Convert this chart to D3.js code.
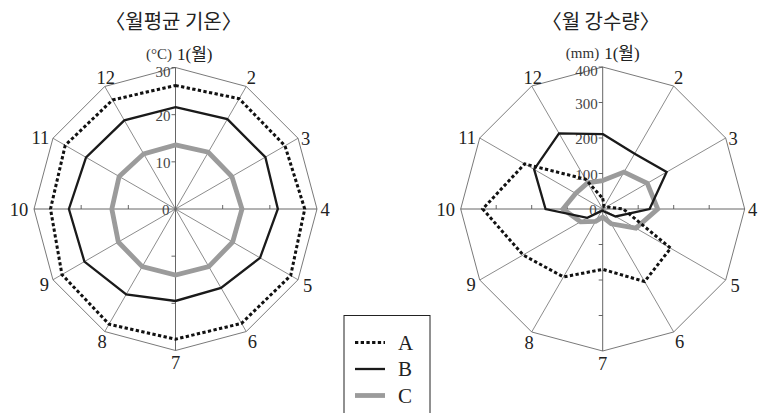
<!DOCTYPE html>
<html>
<head>
<meta charset="utf-8">
<script src="https://cdn.jsdelivr.net/npm/d3@7"></script>
<style>
  body { margin: 0; background: #fff; }
  svg { display: block; }
</style>
</head>
<body>
<svg></svg>
<script>
var width = 771;
var height = 413;

// months around the dial
var months = ["1", "2", "3", "4", "5", "6", "7", "8", "9", "10", "11", "12"];

// monthly mean temperature (°C)
var tempA = [26.2, 27.0, 26.8, 27.4, 28.2, 28.0, 27.6, 28.2, 27.8, 26.5, 27.0, 26.7];
var tempB = [21.6, 22.0, 22.0, 21.7, 20.7, 19.3, 19.5, 20.9, 22.3, 22.6, 21.9, 21.7];
var tempC = [13.6, 13.9, 13.8, 14.1, 14.0, 14.1, 14.0, 14.1, 14.0, 13.5, 13.8, 13.5];

// monthly precipitation (mm)
var rainA = [30, 8, 12, 58, 221, 236, 170, 221, 259, 338, 254, 97];
var rainB = [211, 180, 208, 132, 42, 8, 5, 6, 50, 161, 223, 246];
var rainC = [80, 120, 145, 155, 108, 48, 23, 40, 72, 112, 88, 85];

var tempTicks = [10, 20, 30];
var rainTicks = [100, 200, 300, 400];
var seriesNames = ["A", "B", "C"];

var svg = d3.select("svg")
  .attr("width", width)
  .attr("height", height);

var serif = "'Liberation Serif', 'Times New Roman', 'Noto Sans CJK KR', serif";
var gothic = "'Noto Sans CJK KR', sans-serif";

var styles = {
  A: { stroke: "#111", width: 3, dash: "3.3,2.4" },
  B: { stroke: "#1a1a1a", width: 2.3, dash: null },
  C: { stroke: "#9b9b9b", width: 4.8, dash: null }
};

// label centre nudges relative to the spoke end (month 2..12), month 1 handled apart
var nudgeX = [0, 5, 7.5, 8, 9.5, 6, 0, -2.7, -8.6, -15, -12.6, 1];
var nudgeY = [0, -8.4, 0.3, 1, 6, 10, 12.5, 10.5, 5, 1, -0.5, -8.7];

var angle = d3.scaleLinear().domain([0, 12]).range([0, 2 * Math.PI]);

function drawRadar(cx, cy, R, maxV, ticks, unit, title, series) {
  var g = svg.append("g").attr("transform", "translate(" + cx + "," + cy + ")");
  var r = d3.scaleLinear().domain([0, maxV]).range([0, R]);

  function pt(i, v) {
    var a = angle(i);
    return [Math.sin(a) * r(v), -Math.cos(a) * r(v)];
  }

  // outer dodecagon
  g.append("path")
    .attr("d", d3.lineRadial()
      .angle(function(d, i) { return angle(i); })
      .radius(R)
      .curve(d3.curveLinearClosed)(months))
    .attr("fill", "none")
    .attr("stroke", "#7a7a7a")
    .attr("stroke-width", 1);

  // spokes
  g.selectAll(".spoke")
    .data(months)
    .enter().append("line")
      .attr("x1", 0).attr("y1", 0)
      .attr("x2", function(d, i) { return pt(i, maxV)[0]; })
      .attr("y2", function(d, i) { return pt(i, maxV)[1]; })
      .attr("stroke", function(d, i) { return i % 3 == 0 ? "#555" : "#6e6e6e"; })
      .attr("stroke-width", function(d, i) { return i % 3 == 0 ? 0.9 : 0.8; });

  // tick marks on the four main axes
  ticks.forEach(function(t) {
    var v = r(t);
    g.append("line").attr("x1", -4).attr("x2", 0).attr("y1", -v).attr("y2", -v)
      .attr("stroke", "#555").attr("stroke-width", 0.9);
    if (t < maxV) {
      g.append("line").attr("x1", -4).attr("x2", 0).attr("y1", v).attr("y2", v)
        .attr("stroke", "#555").attr("stroke-width", 0.9);
      g.append("line").attr("x1", v).attr("x2", v).attr("y1", -4).attr("y2", 0)
        .attr("stroke", "#555").attr("stroke-width", 0.9);
      g.append("line").attr("x1", -v).attr("x2", -v).attr("y1", -4).attr("y2", 0)
        .attr("stroke", "#555").attr("stroke-width", 0.9);
    }
  });

  // tick labels
  g.selectAll(".tl")
    .data([0].concat(ticks))
    .enter().append("text")
      .attr("x", function(d) { return d == 0 ? -6 : -5; })
      .attr("y", function(d) { return -r(d) + (d == maxV ? 4 : 1); })
      .attr("dy", "0.35em")
      .attr("text-anchor", "end")
      .attr("font-family", serif)
      .attr("font-size", 15)
      .attr("fill", "#444")
      .text(function(d) { return d; });

  // month labels
  g.selectAll(".ml")
    .data(months.slice(1))
    .enter().append("text")
      .attr("x", function(d, i) { return pt(i + 1, maxV)[0] + nudgeX[i + 1]; })
      .attr("y", function(d, i) { return pt(i + 1, maxV)[1] + nudgeY[i + 1]; })
      .attr("dy", "0.34em")
      .attr("text-anchor", "middle")
      .attr("font-family", serif)
      .attr("font-size", 18.5)
      .attr("fill", "#222")
      .text(function(d) { return d; });

  g.append("text")
    .attr("x", 1.5).attr("y", -R - 8)
    .attr("font-family", serif)
    .attr("font-size", 17)
    .attr("fill", "#222")
    .text(months[0] + "(월)");

  g.append("text")
    .attr("x", -3.5).attr("y", -R - 9)
    .attr("text-anchor", "end")
    .attr("font-family", serif)
    .attr("font-size", 15)
    .attr("fill", "#333")
    .text(unit);

  // title
  g.append("text")
    .attr("x", -2).attr("y", -cy + 28.5)
    .attr("text-anchor", "middle")
    .attr("font-family", gothic)
    .attr("font-size", 20)
    .attr("fill", "#222")
    .text(title);

  // data polygons, C under B under A
  var line = d3.lineRadial()
    .angle(function(d, i) { return angle(i); })
    .radius(function(d) { return r(d); })
    .curve(d3.curveLinearClosed);

  ["C", "B", "A"].forEach(function(k) {
    var s = styles[k];
    g.append("path")
      .attr("d", line(series[k]))
      .attr("fill", "none")
      .attr("stroke", s.stroke)
      .attr("stroke-width", s.width)
      .attr("stroke-dasharray", s.dash)
      .attr("stroke-linejoin", "miter");
  });
}

drawRadar(175.5, 209, 141.5, 30, tempTicks, "(°C)", "〈월평균 기온〉",
  { A: tempA, B: tempB, C: tempC });
drawRadar(602.7, 209, 142, 400, rainTicks, "(mm)", "〈월 강수량〉",
  { A: rainA, B: rainB, C: rainC });

// legend
var legend = svg.append("g").attr("transform", "translate(344,315.5)");
legend.append("rect")
  .attr("width", 86).attr("height", 120)
  .attr("fill", "#fff")
  .attr("stroke", "#222")
  .attr("stroke-width", 1);

var ly = d3.scalePoint().domain(seriesNames).range([27, 80]);

legend.selectAll(".li")
  .data(seriesNames)
  .enter().append("line")
    .attr("x1", 11).attr("x2", 41)
    .attr("y1", function(d) { return ly(d); })
    .attr("y2", function(d) { return ly(d); })
    .attr("stroke", function(d) { return styles[d].stroke; })
    .attr("stroke-width", function(d) { return styles[d].width; })
    .attr("stroke-dasharray", function(d) { return styles[d].dash; });

legend.selectAll(".lt")
  .data(seriesNames)
  .enter().append("text")
    .attr("x", 54)
    .attr("y", function(d) { return ly(d) + 7; })
    .attr("font-family", serif)
    .attr("font-size", 21)
    .attr("fill", "#222")
    .text(function(d) { return d; });
</script>
</body>
</html>
